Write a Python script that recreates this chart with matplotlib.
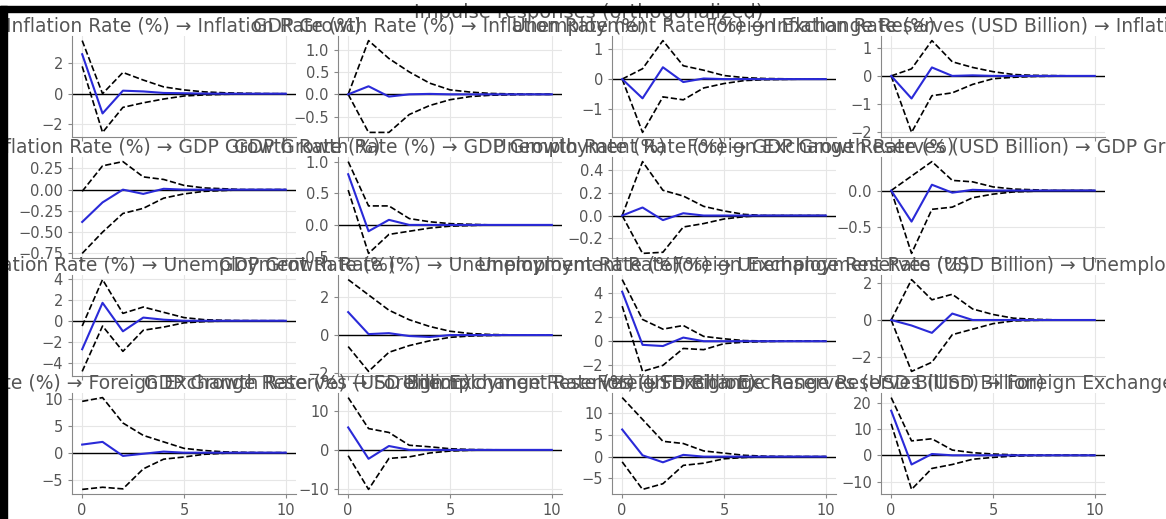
"""
Impulse responses (orthogonalized) - 4x4 grid of VAR IRFs with error bands.
"""

import numpy as np
import matplotlib
matplotlib.use("Agg")
import matplotlib.pyplot as plt
from matplotlib.patches import Rectangle
from matplotlib.ticker import MultipleLocator

variables = [
    "Inflation Rate (%)",
    "GDP Growth Rate (%)",
    "Unemployment Rate (%)",
    "Foreign Exchange Reserves (USD Billion)",
]
steps = list(range(11))

# ── response: Inflation Rate (one row per impulse) ───────────────────────────
infl_irf = [
    [2.6, -1.3, 0.2, 0.15, 0.05, 0.03, 0.01, 0.0, 0.0, 0.0, 0.0],
    [0.0, 0.18, -0.05, 0.0, 0.01, 0.0, 0.0, 0.0, 0.0, 0.0, 0.0],
    [0.0, -0.65, 0.4, -0.1, 0.02, 0.0, 0.0, 0.0, 0.0, 0.0, 0.0],
    [0.0, -0.8, 0.3, 0.0, 0.02, 0.0, 0.0, 0.0, 0.0, 0.0, 0.0],
]
infl_lo = [
    [1.8, -2.55, -0.9, -0.6, -0.35, -0.15, -0.08, -0.04, -0.02, -0.01, 0.0],
    [0.0, -0.85, -0.85, -0.45, -0.25, -0.12, -0.05, -0.02, -0.01, 0.0, 0.0],
    [0.0, -1.8, -0.6, -0.7, -0.3, -0.15, -0.05, -0.02, -0.01, 0.0, 0.0],
    [0.0, -2.0, -0.7, -0.6, -0.3, -0.1, -0.05, -0.02, -0.01, 0.0, 0.0],
]
infl_hi = [
    [3.5, 0.0, 1.4, 0.9, 0.45, 0.25, 0.12, 0.06, 0.03, 0.01, 0.0],
    [0.0, 1.2, 0.8, 0.5, 0.25, 0.1, 0.05, 0.02, 0.01, 0.0, 0.0],
    [0.0, 0.35, 1.3, 0.45, 0.3, 0.12, 0.05, 0.02, 0.01, 0.0, 0.0],
    [0.0, 0.25, 1.25, 0.5, 0.3, 0.15, 0.05, 0.02, 0.01, 0.0, 0.0],
]

# ── response: GDP Growth Rate ────────────────────────────────────────────────
gdp_irf = [
    [-0.38, -0.15, 0.0, -0.05, 0.01, 0.0, 0.0, 0.0, 0.0, 0.0, 0.0],
    [0.8, -0.1, 0.08, 0.0, 0.0, 0.0, 0.0, 0.0, 0.0, 0.0, 0.0],
    [0.0, 0.07, -0.04, 0.02, 0.0, 0.0, 0.0, 0.0, 0.0, 0.0, 0.0],
    [0.0, -0.43, 0.08, -0.03, 0.01, 0.0, 0.0, 0.0, 0.0, 0.0, 0.0],
]
gdp_lo = [
    [-0.75, -0.5, -0.28, -0.22, -0.1, -0.05, -0.02, -0.01, 0.0, 0.0, 0.0],
    [0.55, -0.45, -0.15, -0.1, -0.05, -0.02, -0.01, 0.0, 0.0, 0.0, 0.0],
    [0.0, -0.33, -0.32, -0.1, -0.07, -0.03, -0.01, 0.0, 0.0, 0.0, 0.0],
    [0.0, -0.87, -0.26, -0.23, -0.1, -0.05, -0.02, -0.01, 0.0, 0.0, 0.0],
]
gdp_hi = [
    [-0.02, 0.28, 0.33, 0.15, 0.12, 0.05, 0.02, 0.01, 0.0, 0.0, 0.0],
    [1.0, 0.3, 0.3, 0.1, 0.05, 0.02, 0.01, 0.0, 0.0, 0.0, 0.0],
    [0.0, 0.47, 0.22, 0.17, 0.08, 0.04, 0.01, 0.0, 0.0, 0.0, 0.0],
    [0.0, 0.2, 0.4, 0.14, 0.12, 0.05, 0.02, 0.01, 0.0, 0.0, 0.0],
]

# ── response: Unemployment Rate ──────────────────────────────────────────────
unemp_irf = [
    [-2.7, 1.7, -1.0, 0.3, 0.1, 0.0, 0.0, 0.0, 0.0, 0.0, 0.0],
    [1.2, 0.05, 0.1, -0.05, -0.1, 0.0, 0.0, 0.0, 0.0, 0.0, 0.0],
    [4.1, -0.3, -0.4, 0.3, 0.0, 0.0, 0.0, 0.0, 0.0, 0.0, 0.0],
    [0.0, -0.3, -0.7, 0.35, 0.0, 0.0, 0.0, 0.0, 0.0, 0.0, 0.0],
]
unemp_lo = [
    [-4.8, -0.5, -2.9, -0.9, -0.6, -0.2, -0.08, -0.03, 0.0, 0.0, 0.0],
    [-0.6, -1.9, -0.9, -0.55, -0.3, -0.12, -0.05, -0.02, 0.0, 0.0, 0.0],
    [2.9, -2.5, -2.0, -0.6, -0.7, -0.2, -0.08, -0.03, 0.0, 0.0, 0.0],
    [0.0, -2.8, -2.3, -0.8, -0.5, -0.2, -0.05, -0.02, 0.0, 0.0, 0.0],
]
unemp_hi = [
    [-0.5, 3.9, 0.7, 1.3, 0.8, 0.3, 0.1, 0.04, 0.01, 0.0, 0.0],
    [2.9, 2.1, 1.3, 0.8, 0.45, 0.2, 0.08, 0.03, 0.01, 0.0, 0.0],
    [5.1, 1.8, 1.0, 1.3, 0.4, 0.2, 0.05, 0.02, 0.0, 0.0, 0.0],
    [0.0, 2.2, 1.1, 1.4, 0.6, 0.3, 0.1, 0.04, 0.01, 0.0, 0.0],
]

# ── response: Foreign Exchange Reserves ──────────────────────────────────────
fx_irf = [
    [1.5, 2.0, -0.6, -0.2, 0.2, 0.0, 0.0, 0.0, 0.0, 0.0, 0.0],
    [5.8, -2.3, 1.0, 0.0, 0.0, 0.0, 0.0, 0.0, 0.0, 0.0, 0.0],
    [6.2, 0.3, -1.3, 0.4, 0.0, 0.0, 0.0, 0.0, 0.0, 0.0, 0.0],
    [17.0, -3.5, 0.5, 0.0, 0.0, 0.0, 0.0, 0.0, 0.0, 0.0, 0.0],
]
fx_lo = [
    [-6.8, -6.4, -6.7, -3.0, -1.2, -0.8, -0.3, -0.1, 0.0, 0.0, 0.0],
    [-1.5, -10.2, -2.2, -1.8, -0.8, -0.3, -0.1, 0.0, 0.0, 0.0, 0.0],
    [-1.2, -7.5, -6.2, -2.0, -1.5, -0.5, -0.2, -0.05, 0.0, 0.0, 0.0],
    [12.0, -13.0, -5.0, -3.5, -1.5, -0.8, -0.3, -0.1, 0.0, 0.0, 0.0],
]
fx_hi = [
    [9.5, 10.2, 5.5, 3.2, 2.0, 0.8, 0.4, 0.15, 0.05, 0.0, 0.0],
    [13.5, 5.5, 4.5, 1.2, 0.8, 0.3, 0.1, 0.03, 0.0, 0.0, 0.0],
    [13.5, 8.5, 3.5, 3.0, 1.3, 0.8, 0.3, 0.1, 0.02, 0.0, 0.0],
    [22.0, 5.5, 6.3, 2.0, 1.0, 0.5, 0.2, 0.05, 0.0, 0.0, 0.0],
]

irf_rows = [infl_irf, gdp_irf, unemp_irf, fx_irf]
lo_rows = [infl_lo, gdp_lo, unemp_lo, fx_lo]
hi_rows = [infl_hi, gdp_hi, unemp_hi, fx_hi]

# y tick spacing per panel (row = response, col = impulse)
ystep = [[2, 0.5, 1, 1], [0.25, 0.5, 0.2, 0.5], [2, 2, 2, 2], [5, 10, 5, 10]]

W, H = 1166, 519
fig = plt.figure(figsize=(W / 100, H / 100), dpi=100)

TXT = "#555555"
col_x = [72, 338, 612, 881]
ax_w = 224
row_top = [36, 157, 275, 393]
ax_h = 101

for i in range(4):          # response
    for j in range(4):      # impulse
        left = col_x[j] / W
        bottom = 1 - (row_top[i] + ax_h) / H
        ax = fig.add_axes([left, bottom, ax_w / W, ax_h / H])
        ax.plot(steps, irf_rows[i][j], color="#2a2ad8", linewidth=1.5, zorder=3)
        ax.plot(steps, lo_rows[i][j], "k--", linewidth=1.2, zorder=2)
        ax.plot(steps, hi_rows[i][j], "k--", linewidth=1.2, zorder=2)
        ax.axhline(0, color="k", linewidth=1.0, zorder=1)
        ax.set_xlim(-0.5, 10.5)
        ax.set_xticks([0, 5, 10])
        ax.yaxis.set_major_locator(MultipleLocator(ystep[i][j]))
        ax.grid(True, color="#e6e6e6", linewidth=0.8)
        ax.set_axisbelow(True)
        for s in ("top", "right"):
            ax.spines[s].set_visible(False)
        for s in ("left", "bottom"):
            ax.spines[s].set_color("#888888")
        ax.tick_params(colors="#888888", labelcolor=TXT, labelsize=10.5, length=3)
        if i < 3:
            ax.tick_params(labelbottom=False)
        ax.set_title(f"{variables[j]} \u2192 {variables[i]}", fontsize=13.5,
                     color=TXT, pad=3)

fig.text(0.505, 1 - 18 / H, "Impulse responses (orthogonalized)", fontsize=14,
         color=TXT, ha="center", va="baseline")

# screenshot frame: black bars at top and left edge
fig.add_artist(Rectangle((0, 1 - 12 / H), 1, 6 / H, transform=fig.transFigure,
                         color="black", zorder=10))
fig.add_artist(Rectangle((0, 0), 7 / W, 1 - 6 / H, transform=fig.transFigure,
                         color="black", zorder=10))

fig.savefig("out.png", dpi=100)
